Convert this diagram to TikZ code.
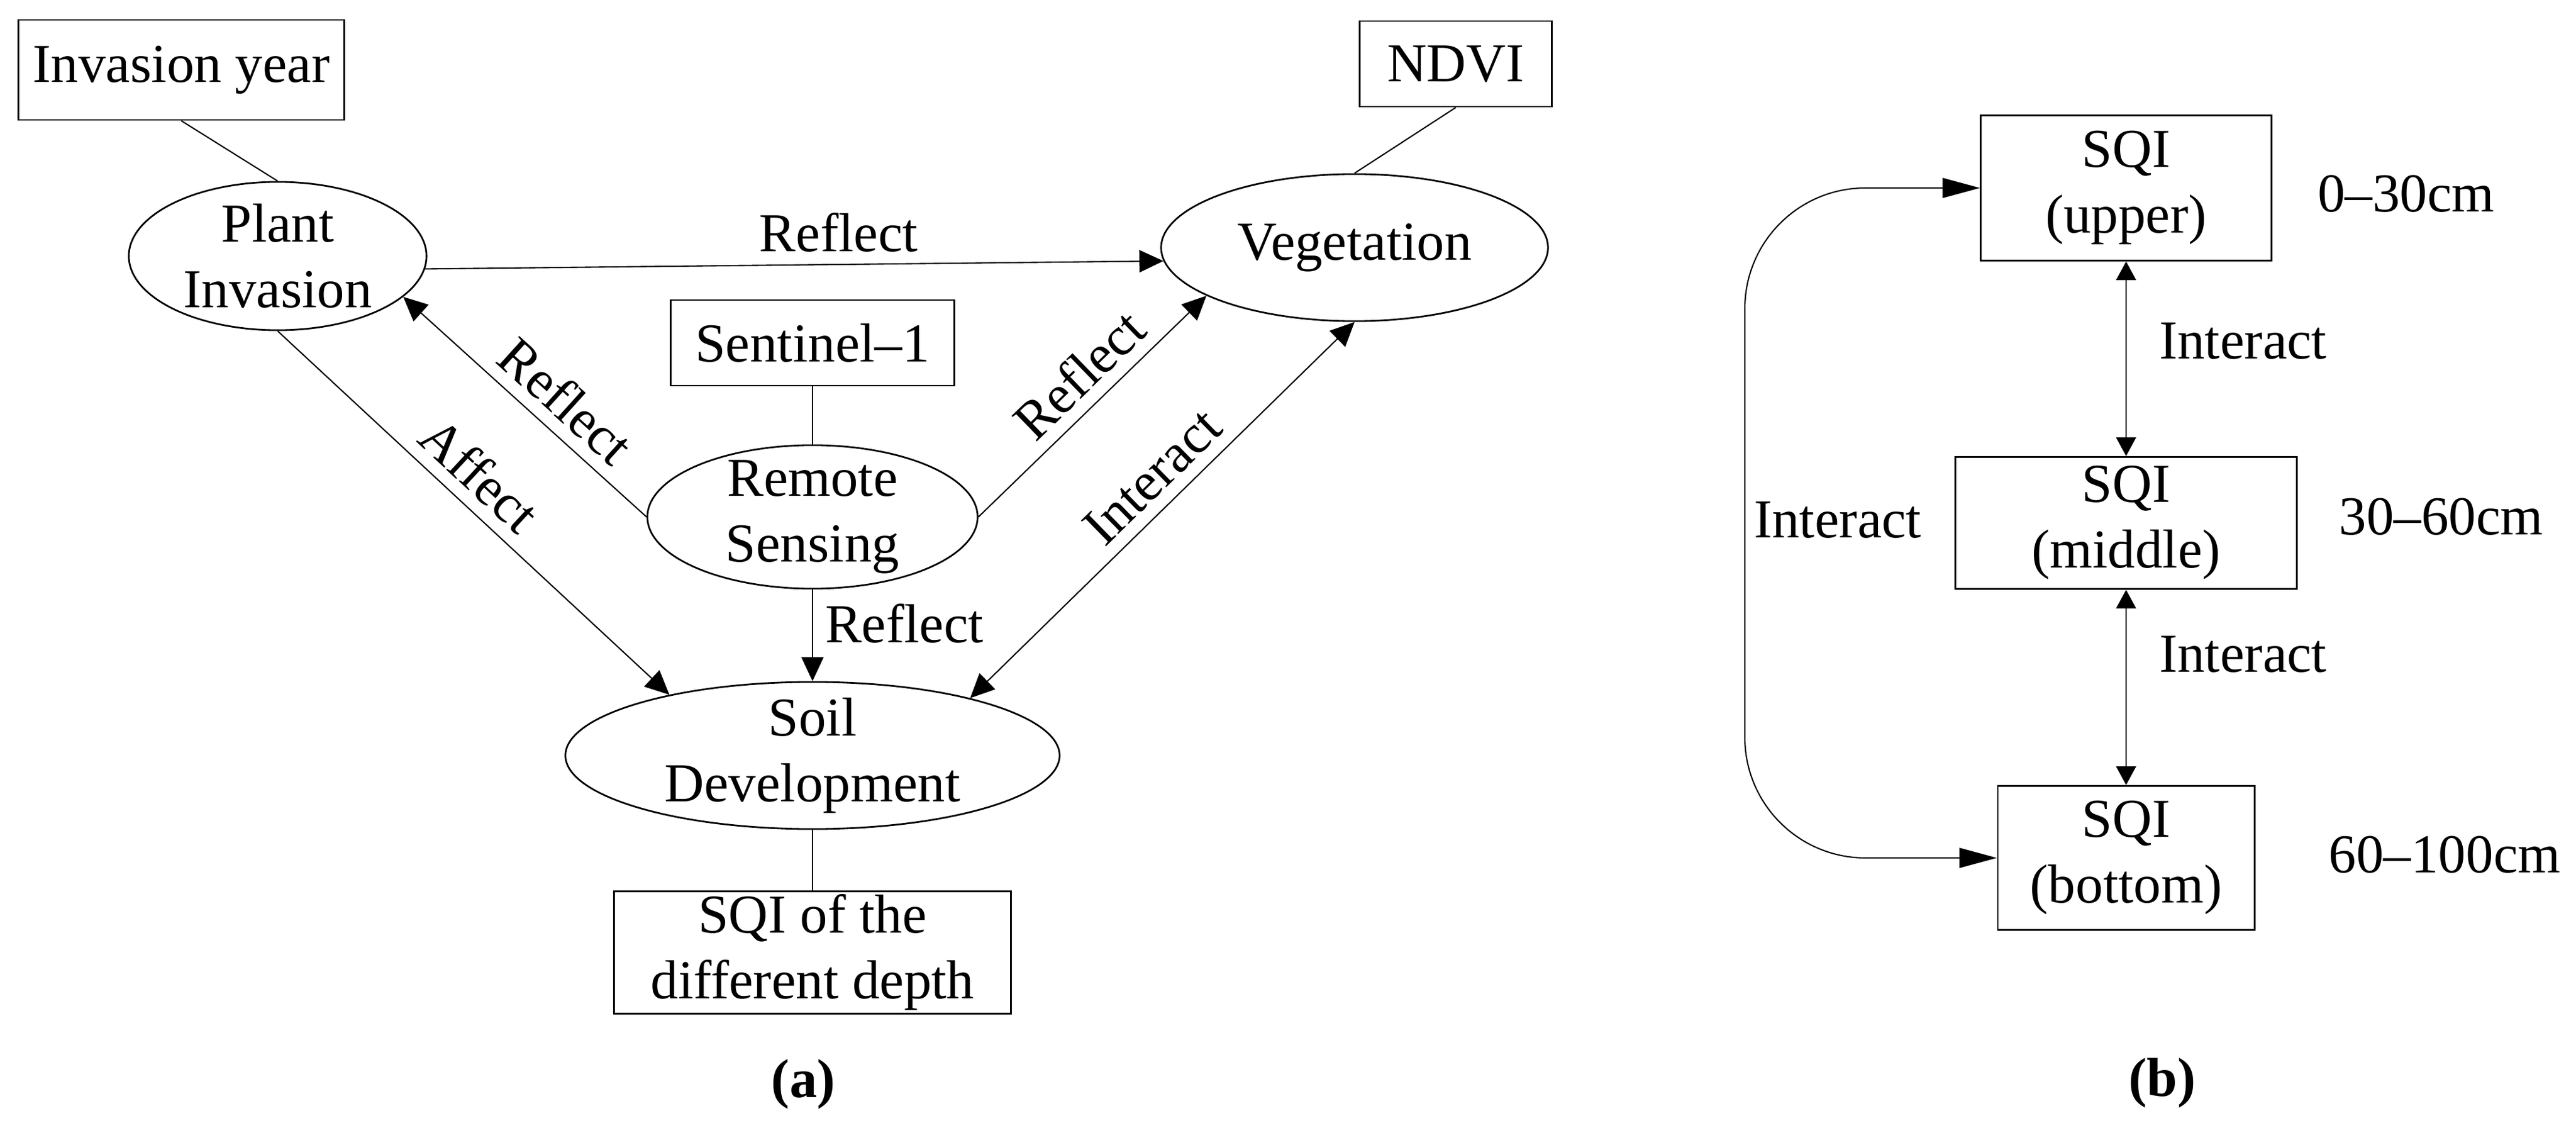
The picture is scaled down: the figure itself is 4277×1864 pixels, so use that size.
\documentclass[tikz,border=0pt]{standalone}
\usepackage{fontspec}
\setmainfont{Liberation Serif}
\usetikzlibrary{shapes.geometric,arrows.meta}

\tikzset{
  txt/.style={font=\fontsize{25.9pt}{31pt}\selectfont},
  lbl/.style={txt,inner sep=0.2cm},
  tip/.style={-{Triangle[length=0.4cm,width=0.37cm]}},
  bothtip/.style={{Triangle[length=0.4cm,width=0.37cm]}-{Triangle[length=0.4cm,width=0.37cm]}},
  sqitip/.style={{Triangle[length=0.31cm,width=0.33cm]}-{Triangle[length=0.31cm,width=0.33cm]}},
  looptip/.style={{Triangle[length=0.62cm,width=0.33cm]}-{Triangle[length=0.62cm,width=0.33cm]}}
}

\begin{document}
\begin{tikzpicture}[x=0.01cm,y=-0.01cm,line width=0.6pt]

        \useasboundingbox (0,0) rectangle (4277,1864);

        \begin{scope}[every node/.style={ellipse,draw,txt,align=center,line width=0.8pt,inner xsep=0pt,inner ysep=-0.2cm}]
          \node[minimum width=4.94cm,minimum height=2.46cm] (plant) at (461,425)   {Plant\\Invasion};
          \node[minimum width=6.42cm,minimum height=2.44cm] (veg)   at (2249,411)  {Vegetation};
          \node[minimum width=5.48cm,minimum height=2.38cm] (rs)    at (1349,858)  {Remote\\Sensing};
          \node[minimum width=8.20cm,minimum height=2.44cm] (soil)  at (1349,1254) {Soil\\Development};
        \end{scope}

        \begin{scope}[every node/.style={rectangle,draw,txt,align=center,line width=0.8pt,inner sep=0pt}]
          \node[minimum width=5.41cm,minimum height=1.66cm] (year)   at (301,116)   {Invasion year};
          \node[minimum width=3.19cm,minimum height=1.42cm] (ndvi)   at (2417,106)  {NDVI};
          \node[minimum width=4.70cm,minimum height=1.42cm] (sent)   at (1349,569)  {Sentinel–1};
          \node[minimum width=6.59cm,minimum height=2.03cm] (depth)  at (1349,1581) {SQI of the\\different depth};
          \node[minimum width=4.82cm,minimum height=2.41cm] (upper)  at (3530,312)  {SQI\\(upper)};
          \node[minimum width=5.67cm,minimum height=2.19cm] (middle) at (3530,868)  {SQI\\(middle)};
          \node[minimum width=4.26cm,minimum height=2.39cm] (bottom) at (3530,1424) {SQI\\(bottom)};
        \end{scope}

        \draw (year.south) -- (plant.north);
        \draw (ndvi.south) -- (veg.north);
        \draw (sent) -- (rs);
        \draw (soil) -- (depth);

        \begin{scope}[every node/.style={lbl}]

          \begin{scope}[every edge/.style={draw,tip}]
            \path (plant.-5)   edge node[above,pos=.56] {Reflect} (veg.184);
            \path (rs.west)    edge node[sloped,above,pos=.42] {Reflect} (plant.-18);
            \path (plant.south) edge node[sloped,above,pos=.46] {Affect} (soil.157);
            \path (rs.east)    edge node[sloped,above,pos=.54] {Reflect} (veg.198);
            \path (rs.south)   edge node[right,pos=.37] {Reflect} (soil.north);
            \path (soil.20)    edge[bothtip] node[sloped,above,pos=.53] {Interact} (veg.south);
            \path (upper)      edge[sqitip] node[right=0.34cm,pos=.41] {Interact} (middle);
            \path (middle)     edge[sqitip] node[right=0.34cm,pos=.33] {Interact} (bottom);
          \end{scope}

          \coordinate (loop) at (2897,863);
          \draw[looptip,rounded corners=2cm] (upper.west) -| (loop) node[right,inner sep=0.14cm] {Interact} |- (bottom.west);

          \node (d1) at (3995,322)  {0–30cm};
          \node (d2) at (4053,858)  {30–60cm};
          \node (d3) at (4059,1419) {60–100cm};

          \node[font=\fontsize{25.9pt}{31pt}\selectfont\bfseries] (capa) at (1334,1800) {(a)};
          \node[font=\fontsize{25.9pt}{31pt}\selectfont\bfseries] (capb) at (3590,1798) {(b)};
        \end{scope}

      \end{tikzpicture}
\end{document}
